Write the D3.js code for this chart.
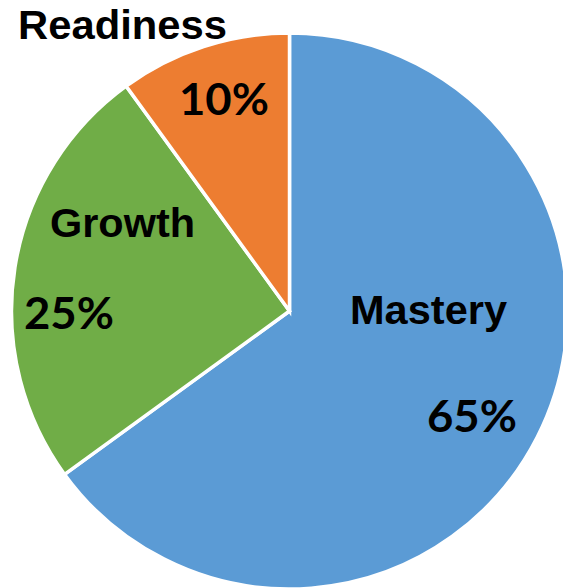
<!DOCTYPE html>
<html>
<head>
<meta charset="utf-8">
<script src="https://cdn.jsdelivr.net/npm/d3@7"></script>
<style>
  html, body { margin: 0; padding: 0; background: #fff; }
  svg { display: block; }
</style>
</head>
<body>
<svg id="chart" width="563" height="588"></svg>
<script>
// Share of students in each band
const categories = ["Mastery", "Growth", "Readiness"];
const values = [65, 25, 10];
const valueLabels = ["65%", "25%", "10%"];
const colors = ["#5B9BD5", "#70AD47", "#ED7D31"];

const W = 563, H = 588;
const cx = 289.5, cy = 311, radius = 278;

const svg = d3.select("#chart");
const g = svg.append("g").attr("transform", `translate(${cx},${cy})`);

const pie = d3.pie().sort(null).value(d => d.value);
const arc = d3.arc().innerRadius(0).outerRadius(radius);

const data = categories.map((c, i) => ({ name: c, value: values[i], label: valueLabels[i], color: colors[i] }));
const arcs = pie(data);

g.selectAll("path.slice")
  .data(arcs)
  .join("path")
  .attr("class", "slice")
  .attr("d", arc)
  .attr("fill", d => d.data.color)
  .attr("stroke", "#fff")
  .attr("stroke-width", 3.5)
  .attr("stroke-linejoin", "miter");

// Label placement relative to the pie centre: [name x, name baseline, value x, value baseline]
const labelLayout = {
  Mastery:   { nx: 350 - cx, ny: 324 - cy, vx: 427 - cx, vy: 432 - cy },
  Growth:    { nx: 50 - cx,  ny: 237 - cy, vx: 24 - cx,  vy: 329 - cy },
  Readiness: { nx: 18 - cx,  ny: 39 - cy,  vx: 179 - cx, vy: 115 - cy }
};
const nameWidths = { Mastery: 157, Growth: 145, Readiness: 209 };

const labels = g.selectAll("g.label")
  .data(arcs)
  .join("g")
  .attr("class", "label");

labels.append("text")
  .attr("x", d => labelLayout[d.data.name].nx)
  .attr("y", d => labelLayout[d.data.name].ny)
  .attr("font-family", "'Liberation Sans', Arial, sans-serif")
  .attr("font-weight", "bold")
  .attr("font-size", 40)
  .attr("fill", "#000")
  .attr("textLength", d => nameWidths[d.data.name])
  .attr("lengthAdjust", "spacingAndGlyphs")
  .text(d => d.data.name);

labels.append("text")
  .attr("x", d => labelLayout[d.data.name].vx)
  .attr("y", d => labelLayout[d.data.name].vy)
  .attr("font-family", "Lato, 'Open Sans', sans-serif")
  .attr("font-weight", "bold")
  .attr("font-size", 44)
  .attr("fill", "#000")
  .attr("textLength", 90)
  .attr("lengthAdjust", "spacingAndGlyphs")
  .text(d => d.data.label);
</script>
</body>
</html>
